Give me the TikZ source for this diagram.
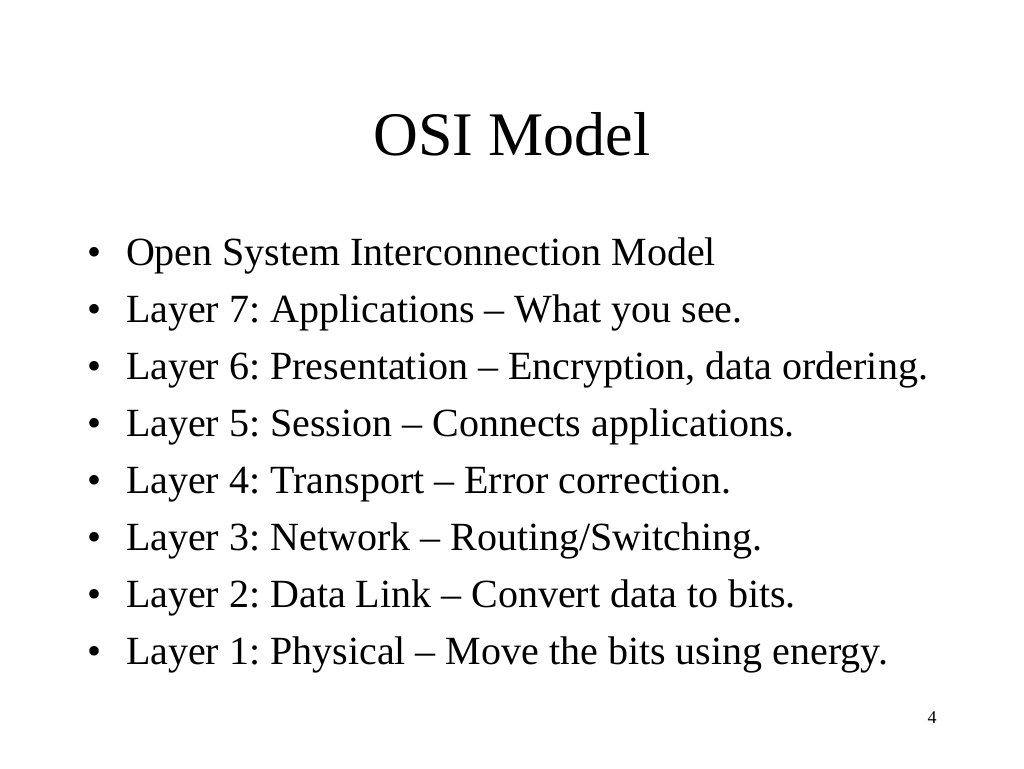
\documentclass[tikz,border=0pt]{standalone}
\usepackage{fontspec}
\setmainfont{Liberation Serif}
\frenchspacing
\begin{document}
\begin{tikzpicture}[x=1pt,y=1pt,
  every node/.style={inner sep=0pt,outer sep=0pt},
  titletext/.style={anchor=base,font=\fontsize{62}{70}\selectfont\frenchspacing},
  bullettext/.style={anchor=base west,font=\fontsize{40}{48}\selectfont\frenchspacing},
  bulletdot/.style={anchor=base,font=\fontsize{40}{48}\selectfont},
  pagenum/.style={anchor=base,font=\fontsize{18}{20}\selectfont}]
\useasboundingbox[fill=white] (0,0) rectangle (1024,-768);
\node[titletext] (title) at (512,-155) {OSI Model};
\foreach \i in {0,...,7}{\node[bulletdot] (b\i) at (95,-265-57*\i) {•};}
\node[bullettext] (t0) at (126,-265) {Open System Interconnection Model};
\node[bullettext] (t1) at (126,-322) {Layer 7: Applications – What you see.};
\node[bullettext] (t2) at (126,-379) {Layer 6: Presentation – Encryption, data ordering.};
\node[bullettext] (t3) at (126,-436) {Layer 5: Session – Connects applications.};
\node[bullettext] (t4) at (126,-493) {Layer 4: Transport – Error correction.};
\node[bullettext] (t5) at (126,-550) {Layer 3: Network – Routing/Switching.};
\node[bullettext] (t6) at (126,-607) {Layer 2: Data Link – Convert data to bits.};
\node[bullettext] (t7) at (126,-664) {Layer 1: Physical – Move the bits using energy.};
\node[pagenum] (page) at (932,-723) {4};
\end{tikzpicture}
\end{document}
